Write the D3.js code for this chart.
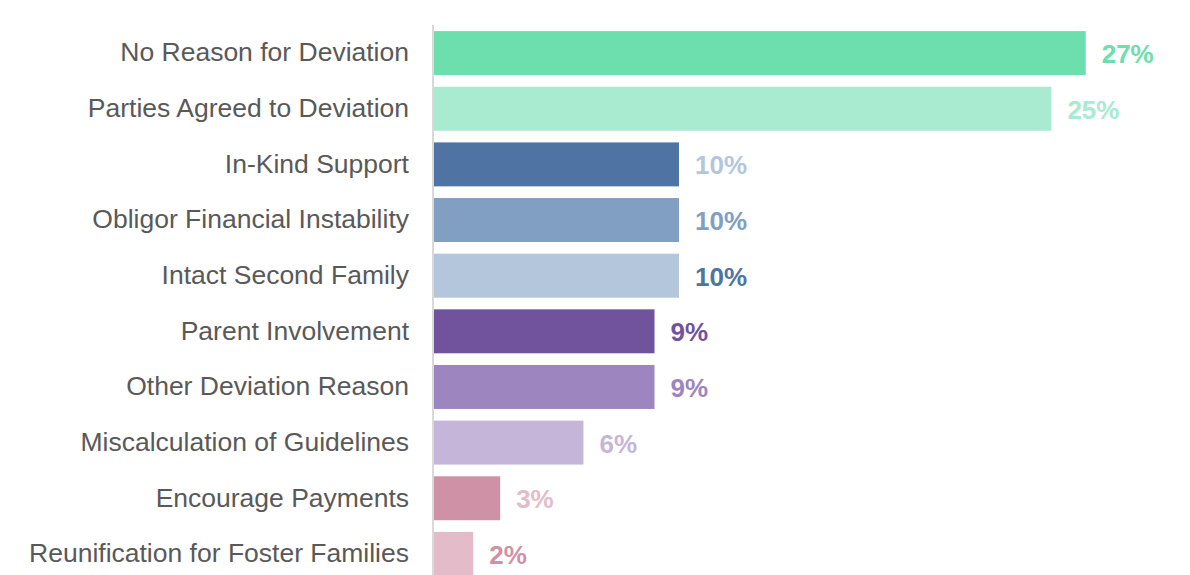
<!DOCTYPE html>
<html>
<head>
<meta charset="utf-8">
<script src="https://cdn.jsdelivr.net/npm/d3@7"></script>
<style>
  html, body { margin: 0; padding: 0; background: #fff; overflow: hidden; }
  svg { display: block; font-family: "Liberation Sans", Arial, sans-serif; }
</style>
</head>
<body>
<svg id="chart" width="1190" height="575"></svg>
<script>
// deviation reasons, share of cases (%)
var categories = [
	"No Reason for Deviation",
	"Parties Agreed to Deviation",
	"In-Kind Support",
	"Obligor Financial Instability",
	"Intact Second Family",
	"Parent Involvement",
	"Other Deviation Reason",
	"Miscalculation of Guidelines",
	"Encourage Payments",
	"Reunification for Foster Families"
];
var values = [26.6, 25.2, 10.0, 10.0, 10.0, 9.0, 9.0, 6.1, 2.7, 1.6];
var barColors = ["#6ddead", "#a8ebd1", "#4f74a3", "#809fc3", "#b3c6dc",
	"#71529d", "#9d85c0", "#c5b6d9", "#cf91a5", "#e4bcc9"];
var labelColors = ["#6ddead", "#a8ebd1", "#b3c6dc", "#809fc3", "#4f74a3",
	"#71529d", "#9d85c0", "#c5b6d9", "#e4bcc9", "#cf91a5"];

var data = categories.map(function(c, i) {
	return { name: c, value: values[i], color: barColors[i], labelColor: labelColors[i] };
});

var svg = d3.select("#chart");

var xscale = d3.scaleLinear().domain([0, 30]).range([434, 1169]);
var yscale = d3.scaleBand()
	.domain(categories)
	.range([25, 582])
	.paddingInner(0.21)
	.paddingOuter(0.11);

// category labels
svg.append("g")
	.selectAll("text")
	.data(data)
	.enter()
	.append("text")
	.attr("x", 409)
	.attr("y", function(d) { return yscale(d.name) + yscale.bandwidth() / 2 - 1; })
	.attr("dy", "0.35em")
	.attr("text-anchor", "end")
	.style("font-size", "26.5px")
	.style("fill", "#595959")
	.text(function(d) { return d.name; });

// bars
svg.append("g")
	.selectAll("rect")
	.data(data)
	.enter()
	.append("rect")
	.attr("x", xscale(0))
	.attr("y", function(d) { return yscale(d.name); })
	.attr("width", function(d) { return xscale(d.value) - xscale(0); })
	.attr("height", yscale.bandwidth())
	.attr("fill", function(d) { return d.color; });

// value labels
svg.append("g")
	.selectAll("text")
	.data(data)
	.enter()
	.append("text")
	.attr("x", function(d) { return xscale(d.value) + 16; })
	.attr("y", function(d) { return yscale(d.name) + yscale.bandwidth() / 2 + 1; })
	.attr("dy", "0.35em")
	.style("font-size", "26px")
	.style("font-weight", "bold")
	.style("fill", function(d) { return d.labelColor; })
	.text(function(d) { return Math.round(d.value) + "%"; });

// baseline
svg.append("line")
	.attr("x1", xscale(0) - 1)
	.attr("x2", xscale(0) - 1)
	.attr("y1", 25)
	.attr("y2", 575)
	.attr("stroke", "#d9d9d9")
	.attr("stroke-width", 2);
</script>
</body>
</html>
